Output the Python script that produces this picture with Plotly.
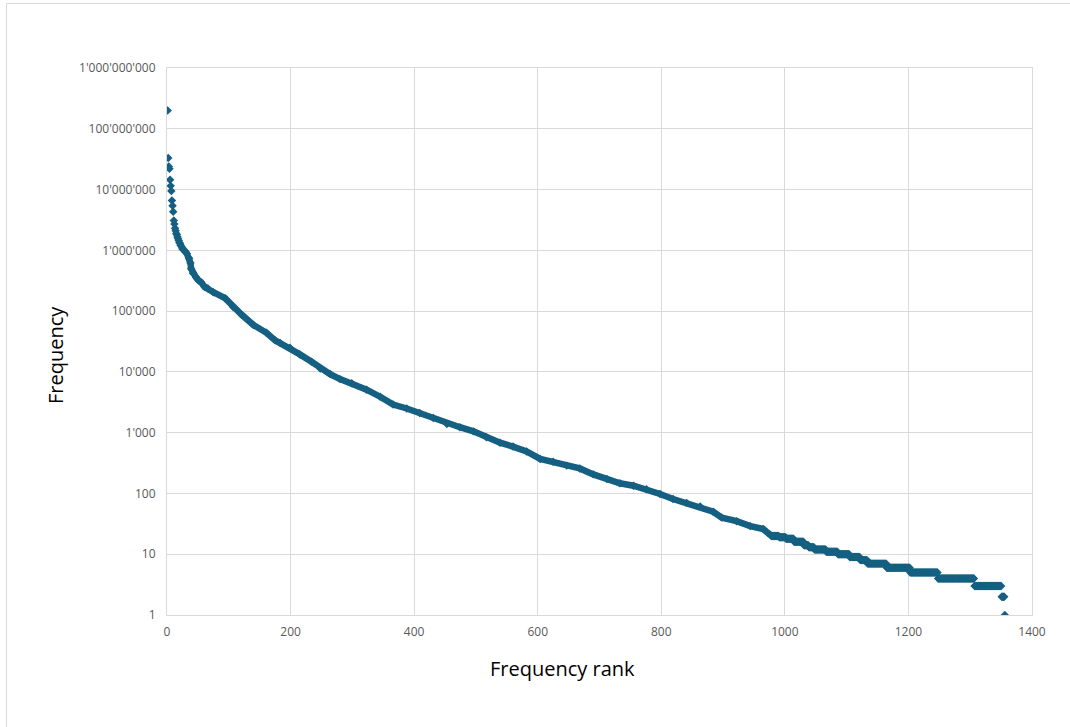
import plotly.graph_objects as go

# --- data (rank -> frequency) ---
head_rank = [1, 2, 3, 4, 5, 6, 7, 8, 9, 10, 11, 12, 13, 14, 15, 16, 17, 18, 19, 20, 21]
head_freq = [2.0e8, 3.3e7, 2.4e7, 2.2e7, 1.45e7, 1.15e7, 9.5e6, 6.6e6, 5.4e6, 4.3e6,
             3.1e6, 2.7e6, 2.3e6, 2.1e6, 1.9e6, 1.8e6, 1.65e6, 1.55e6, 1.45e6, 1.35e6, 1.3e6]

body_rank = [22, 25, 29, 32, 36, 38, 39, 42, 47, 51, 55, 61, 66, 75, 94, 107, 121, 140,
             161, 175, 183, 199, 215, 234, 248, 264, 280, 299, 323, 345, 366, 388, 409,
             431, 453, 474, 496, 517, 539, 560, 582, 604, 625, 647, 668, 690, 712, 733,
             755, 776, 798, 819, 841, 863, 884, 898, 922, 944, 965, 976]
body_freq = [1.2e6, 1.05e6, 9.7e5, 8.9e5, 7.4e5, 6.2e5, 5.0e5, 4.2e5, 3.6e5, 3.2e5,
             3.0e5, 2.5e5, 2.37e5, 2.05e5, 1.63e5, 1.17e5, 8.7e4, 5.9e4, 4.4e4, 3.3e4,
             3.0e4, 2.5e4, 1.94e4, 1.47e4, 1.14e4, 9.2e3, 7.6e3, 6.5e3, 5.1e3, 3.9e3,
             2.9e3, 2.5e3, 2.1e3, 1.74e3, 1.39e3, 1.23e3, 1.05e3, 840, 684, 590, 490,
             370, 333, 287, 258, 206, 173, 147, 134, 117, 98, 81, 70, 61, 50, 40, 35,
             29, 26, 21]

# tail plateaus: (frequency, first rank, last rank)
tail_freq = [20, 19, 18, 16, 14, 13, 12, 11, 10, 9, 8, 7, 6, 5, 4, 3, 2, 1]
tail_start = [978, 991, 1002, 1015, 1031, 1039, 1048, 1067, 1086, 1105, 1122, 1134,
              1165, 1203, 1248, 1307, 1351, 1356]
tail_end = [990, 1001, 1014, 1030, 1038, 1047, 1066, 1085, 1104, 1121, 1133, 1164,
            1202, 1247, 1306, 1350, 1355, 1356]

y_tickvals = [1, 10, 100, 1000, 1e4, 1e5, 1e6, 1e7, 1e8, 1e9]
y_ticktext = ["1", "10", "100", "1'000", "10'000", "100'000", "1'000'000",
              "10'000'000", "100'000'000", "1'000'000'000"]
x_tickvals = [0, 200, 400, 600, 800, 1000, 1200, 1400]

# build tail table from the plateau runs
tail_r, tail_f = [], []
for f, a, b in zip(tail_freq, tail_start, tail_end):
    for r in range(a, b + 1):
        tail_r.append(r)
        tail_f.append(f)

COLOR = "#156082"
FONT = "Open Sans"

fig = go.Figure()
fig.add_trace(go.Scatter(
    x=body_rank, y=body_freq, mode="lines+markers",
    line=dict(color=COLOR, width=6.5),
    marker=dict(symbol="diamond", size=6.5, color=COLOR),
    hoverinfo="x+y", showlegend=False))
fig.add_trace(go.Scatter(
    x=head_rank + tail_r, y=head_freq + tail_f, mode="markers",
    marker=dict(symbol="diamond", size=6.5, color=COLOR),
    hoverinfo="x+y", showlegend=False))

# body margin is removed by post_script, so screen coords == figure coords
W, H = 1070, 727
L, T = 167, 68
R = W - 1032
B = H - 615
pw, ph = W - L - R, H - T - B

def px_x(sx):
    return (sx - L) / pw

def px_y(sy):
    return (H - B - sy) / ph

fig.update_layout(
    width=W, height=H,
    margin=dict(l=L, r=R, t=T, b=B, autoexpand=False),
    paper_bgcolor="white", plot_bgcolor="white",
    font=dict(family=FONT, color="#595959", size=12),
    xaxis=dict(range=[0, 1400], tickvals=x_tickvals, showgrid=True,
               gridcolor="#d9d9d9", gridwidth=1, zeroline=False,
               showline=True, linecolor="#d9d9d9", mirror=True,
               ticks="", ticklabelstandoff=6,
               tickfont=dict(family=FONT, size=12, color="#595959")),
    yaxis=dict(type="log", range=[0, 9], tickvals=y_tickvals, ticktext=y_ticktext,
               showgrid=True, gridcolor="#d9d9d9", gridwidth=1, zeroline=False,
               showline=True, linecolor="#d9d9d9", mirror=True,
               ticks="", ticklabelstandoff=8,
               tickfont=dict(family=FONT, size=12, color="#595959")),
    annotations=[
        dict(text="Frequency", xref="paper", yref="paper",
             x=px_x(55), y=px_y(355), textangle=-90,
             xanchor="center", yanchor="middle", showarrow=False,
             font=dict(family=FONT, size=20, color="#000000")),
        dict(text="Frequency rank", xref="paper", yref="paper",
             x=px_x(562), y=px_y(668),
             xanchor="center", yanchor="middle", showarrow=False,
             font=dict(family=FONT, size=20, color="#000000")),
    ],
    shapes=[dict(type="rect", xref="paper", yref="paper",
                 x0=px_x(6.5), x1=px_x(1300),
                 y0=px_y(1000), y1=px_y(3.5),
                 line=dict(color="#d9d9d9", width=1), fillcolor="rgba(0,0,0,0)",
                 layer="below")],
)

fig.write_html("out.html",
               config={"displayModeBar": False},
               post_script="document.body.style.margin='0';document.body.style.padding='0';")
